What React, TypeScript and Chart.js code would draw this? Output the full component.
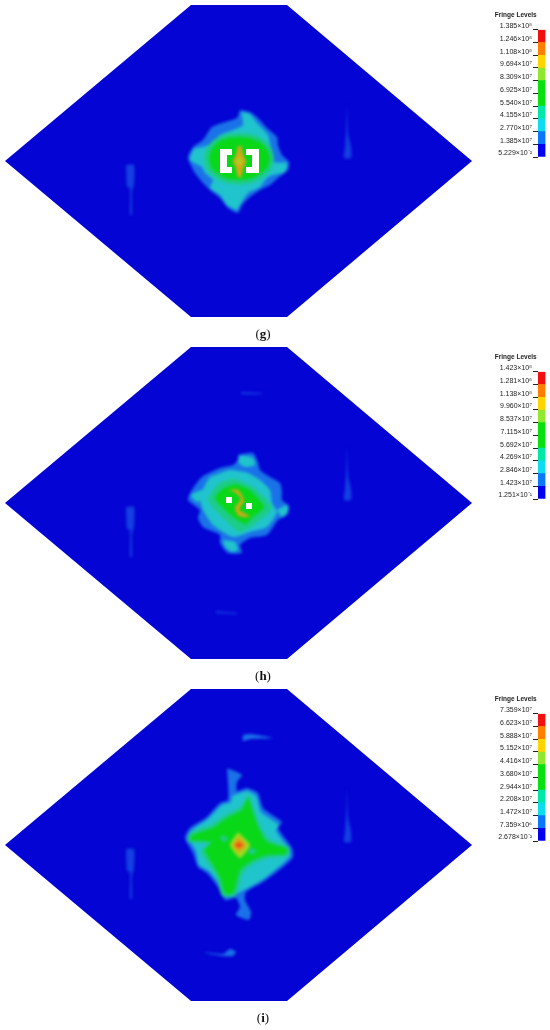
import React, { useEffect, useRef } from "react";
import { Chart, registerables } from "chart.js";

Chart.register(...registerables);

// All shapes are [x0,y0,x1,y1,...] in model units of one panel.
const plate = [191,5, 287,5, 472,161, 287,317, 191,317, 5,161];

const streakLeft = [126,165, 134,165, 134,185, 132,192, 132,215, 130,215, 130,188, 127,187];
const streakRight = [347,103, 348,133, 351,147, 351,158, 344,158, 345,147, 346,133];

const gOuter = [240,110, 250,112, 258,118, 267,128, 277,137, 278,145, 282,155, 289,162, 288,170, 278,178, 270,185, 260,190, 250,197, 242,205, 238,213, 228,208, 220,198, 210,190, 203,183, 195,173, 188,158, 193,147, 203,140, 212,127, 225,122, 237,118];
const gTeal = [241,112, 250,114, 257,123, 268,135, 271,148, 274,162, 287,163, 285,172, 273,175, 267,178, 260,187, 248,193, 240,205, 237,210, 227,205, 220,195, 210,188, 213,180, 205,173, 202,167, 190,160, 194,149, 203,147, 213,143, 220,135, 233,130, 243,125];
const gSea = [239,133, 252,134, 263,139, 271,147, 274,158, 271,170, 263,178, 252,183, 239,185, 226,183, 215,178, 207,170, 204,158, 207,147, 215,139, 226,134];
const gGreen = [239,137, 250,138, 260,142, 267,149, 270,158, 267,168, 260,174, 250,179, 239,180, 228,179, 218,174, 212,168, 209,158, 212,149, 218,142, 228,138];
const gOrange = [238,146, 241,146, 243,155, 246,161, 243,168, 241,177, 238,177, 236,168, 233,161, 236,155];
const gLime = [239,157, 242,161, 239,165, 236,161];
const gHoleLeft = [220,149, 232,149, 232,155, 227,155, 227,167, 232,167, 232,173, 220,173];
const gHoleRight = [246,149, 259,149, 259,173, 246,173, 246,167, 252,167, 252,155, 246,155];

const hStreakTop = [241,50, 262,51, 262,52, 241,52];
const hStreakBottom = [216,269, 237,271, 237,272, 216,271];
const hOuter = [238,113, 253,111, 258,120, 260,128, 270,135, 280,141, 282,150, 282,158, 289,164, 287,173, 278,178, 267,193, 250,196, 240,203, 242,211, 228,211, 220,201, 220,193, 203,185, 198,176, 200,168, 188,158, 192,148, 202,135, 220,126, 233,123, 238,118];
const hTeal = [210,135, 230,128, 248,131, 260,138, 270,148, 272,161, 277,170, 267,185, 250,190, 233,195, 213,183, 203,168, 200,156, 205,143];
const hNubTop = [240,113, 253,116, 255,123, 245,125, 238,120];
const hNubBottom = [223,198, 235,200, 238,208, 232,210, 225,205];
const hNubLeft = [190,153, 202,148, 205,155, 197,160];
const hNubRight = [277,168, 287,163, 288,170, 282,175];
const hSea = [233,136, 253,145, 272,165, 258,180, 240,190, 225,178, 208,158, 218,142];
const hGreen = [236,142, 250,148, 264,165, 252,176, 245,182, 232,174, 215,156, 224,146];
const hOrange = [229,148, 238,148, 244,158, 239,168, 246,172, 250,175, 239,174, 235,166, 241,157, 236,151];
const hHoleLeft = [226,155, 232,155, 232,161, 226,161];
const hHoleRight = [246,161, 252,161, 252,167, 246,167];

const iStreakTop = [243,51, 250,50, 273,54, 250,55, 243,57];
const iStreakBottom = [203,268, 223,270, 230,265, 236,268, 233,272, 223,272, 210,270];
const iOuter = [227,84, 242,91, 237,98, 237,107, 247,104, 258,109, 263,124, 282,138, 278,144, 292,164, 293,173, 283,183, 263,198, 246,208, 245,216, 251,228, 249,236, 236,231, 240,223, 236,214, 225,216, 218,203, 207,189, 198,183, 193,169, 185,154, 190,144, 207,133, 220,119, 228,116, 228,99];
const iTeal = [232,112, 247,107, 256,112, 261,128, 279,141, 276,147, 289,165, 290,172, 281,181, 262,196, 244,206, 228,213, 220,201, 209,187, 199,181, 196,167, 188,153, 192,146, 208,135, 222,121, 231,118];
const iSea = [249,110, 255,128, 261,143, 270,156, 289,163, 288,172, 269,174, 255,179, 243,189, 235,212, 222,212, 217,194, 209,181, 201,167, 208,160, 188,158, 190,149, 211,141, 225,131, 240,123];
const iGreen = [248,113, 253,129, 258,143, 267,158, 287,165, 285,170, 267,171, 253,176, 240,186, 233,209, 225,209, 220,193, 212,179, 205,166, 212,158, 190,156, 193,151, 213,144, 227,134, 242,126];
const iPatchA = [222,151, 228,154, 225,158, 220,155];
const iPatchB = [250,164, 257,166, 253,171, 248,168];
const iLime = [238,148, 250,161, 240,174, 230,161];
const iOrange = [239,153, 246,161, 239,168, 233,161];
const iRed = [239,158, 243,161, 239,164, 235,161];

const C = { blue: "#0404d4", sky: "#1a72e8", teal: "#20c4cc", sea: "#1ccc88", green: "#08d818", lime: "#a0d820", orange: "#dca418", red: "#f05010", streak: "#1440e2", white: "#ffffff" };

const gShapes = [
  { pts: streakLeft, color: C.streak }, { pts: streakRight, color: C.streak },
  { pts: gOuter, color: C.sky }, { pts: gTeal, color: C.teal }, { pts: gSea, color: C.sea },
  { pts: gGreen, color: C.green }, { pts: gOrange, color: C.orange }, { pts: gLime, color: C.lime },
];
const gHoles = [{ pts: gHoleLeft, color: C.white }, { pts: gHoleRight, color: C.white }];

const hShapes = [
  { pts: streakLeft, color: C.streak }, { pts: streakRight, color: C.streak },
  { pts: hStreakTop, color: C.streak }, { pts: hStreakBottom, color: C.streak },
  { pts: hOuter, color: C.sky }, { pts: hTeal, color: C.teal },
  { pts: hNubTop, color: C.teal }, { pts: hNubBottom, color: C.teal }, { pts: hNubLeft, color: C.teal }, { pts: hNubRight, color: C.teal },
  { pts: hSea, color: C.sea }, { pts: hGreen, color: C.green }, { pts: hOrange, color: C.orange },
];
const hHoles = [{ pts: hHoleLeft, color: C.white }, { pts: hHoleRight, color: C.white }];

const iShapes = [
  { pts: streakLeft, color: C.streak }, { pts: streakRight, color: C.streak },
  { pts: iStreakTop, color: C.sky }, { pts: iStreakBottom, color: C.sky },
  { pts: iOuter, color: C.sky }, { pts: iTeal, color: C.teal }, { pts: iSea, color: C.sea }, { pts: iGreen, color: C.green },
  { pts: iPatchA, color: C.sea }, { pts: iPatchB, color: C.sea },
  { pts: iLime, color: C.lime }, { pts: iOrange, color: C.orange }, { pts: iRed, color: C.red },
];

// Fringe scale, top level first.
const gLevels = ["1.385×10⁸","1.246×10⁸","1.108×10⁸","9.694×10⁷","8.309×10⁷","6.925×10⁷","5.540×10⁷","4.155×10⁷","2.770×10⁷","1.385×10⁷","5.229×10⁻²"];
const hLevels = ["1.423×10⁸","1.281×10⁸","1.138×10⁸","9.960×10⁷","8.537×10⁷","7.115×10⁷","5.692×10⁷","4.269×10⁷","2.846×10⁷","1.423×10⁷","1.251×10⁻¹"];
const iLevels = ["7.359×10⁷","6.623×10⁷","5.888×10⁷","5.152×10⁷","4.416×10⁷","3.680×10⁷","2.944×10⁷","2.208×10⁷","1.472×10⁷","7.359×10⁶","2.678×10⁻²"];
const fringeColors = ["#0000f0","#0a78fa","#10dcf0","#00e8a8","#08e010","#08e010","#90e830","#ffd400","#ff8000","#f01010"];

const PANEL_W = 550;
const PANEL_H = 346;

function Layer({ shapes, blur, tension }: any) {
  const ref = useRef<HTMLCanvasElement>(null);
  useEffect(() => {
    const chart = new Chart(ref.current!, {
      type: "scatter",
      data: {
        datasets: shapes.map((s: any, i: number) => {
          const data: any[] = [];
          for (let k = 0; k < s.pts.length; k += 2) data.push({ x: s.pts[k], y: s.pts[k + 1] });
          data.push({ x: s.pts[0], y: s.pts[1] });
          return {
            data, showLine: true, fill: "shape", backgroundColor: s.color, borderColor: s.color,
            borderWidth: 0, pointRadius: 0, tension, order: -i,
          };
        }),
      },
      options: {
        animation: false, responsive: false, maintainAspectRatio: false,
        layout: { padding: 0 },
        plugins: { legend: { display: false }, tooltip: { enabled: false }, title: { display: false } },
        scales: {
          x: { type: "linear", display: false, min: 0, max: PANEL_W },
          y: { type: "linear", display: false, min: 0, max: PANEL_H, reverse: true },
        },
      },
    } as any);
    return () => chart.destroy();
  }, []);
  return <canvas ref={ref} width={PANEL_W} height={PANEL_H} style={{ position: "absolute", left: 0, top: 0, width: PANEL_W, height: PANEL_H, filter: blur ? `blur(${blur}px)` : undefined }} />;
}

function FringeBar({ levels, topOffset }: any) {
  const ref = useRef<HTMLCanvasElement>(null);
  useEffect(() => {
    const chart = new Chart(ref.current!, {
      type: "bar",
      data: {
        labels: ["Fringe"],
        datasets: fringeColors.map((color) => ({ data: [1], backgroundColor: color, stack: "s", barPercentage: 1, categoryPercentage: 1 })),
      },
      options: {
        animation: false, responsive: false, maintainAspectRatio: false,
        layout: { padding: { right: 4.5, bottom: 3 } },
        plugins: {
          legend: { display: false }, tooltip: { enabled: false },
          title: { display: true, text: "Fringe Levels", color: "#222", font: { family: "Liberation Sans", size: 6.5, weight: "bold" }, padding: { top: 11 + topOffset, bottom: 11 } },
        },
        scales: {
          x: { display: false, stacked: true },
          y: {
            stacked: true, min: 0, max: 10,
            border: { display: false },
            grid: { drawOnChartArea: false, drawTicks: true, tickLength: 5, tickColor: "#222", tickWidth: 1 },
            ticks: {
              stepSize: 1, autoSkip: false, padding: 1, align: "end", color: "#222",
              font: { family: "Liberation Sans", size: 7 },
              callback: (v: any) => levels[10 - Number(v)],
            },
            afterFit: (s: any) => { s.width = 52; },
          },
        },
      },
    } as any);
    return () => chart.destroy();
  }, []);
  return <canvas ref={ref} width={64} height={160} style={{ position: "absolute", left: 486, top: 0, width: 64, height: 160, filter: "blur(0.25px)" }} />;
}

function Panel({ top, shapes, holes, levels, letter, topOffset }: any) {
  return (
    <div style={{ position: "absolute", left: 0, top, width: PANEL_W, height: PANEL_H }}>
      <Layer shapes={[{ pts: plate, color: C.blue }]} tension={0} />
      <Layer shapes={shapes} blur={1.6} tension={0.2} />
      {holes ? <Layer shapes={holes} blur={0.4} tension={0} /> : null}
      <FringeBar levels={levels} topOffset={topOffset} />
      <div style={{ position: "absolute", left: 243, width: 40, top: 325, textAlign: "center", font: "13px 'Liberation Serif', serif", color: "#111", lineHeight: "18px" }}>
        (<b>{letter}</b>)
      </div>
    </div>
  );
}

export default function App() {
  useEffect(() => {
    document.body.style.margin = "0";
    document.body.style.overflow = "hidden";
  }, []);
  return (
    <div style={{ position: "relative", width: 550, height: 1030, background: "#fff", overflow: "hidden" }}>
      <Panel top={0} shapes={gShapes} holes={gHoles} levels={gLevels} letter="g" topOffset={0} />
      <Panel top={342} shapes={hShapes} holes={hHoles} levels={hLevels} letter="h" topOffset={0} />
      <Panel top={684} shapes={iShapes} levels={iLevels} letter="i" topOffset={0} />
    </div>
  );
}
